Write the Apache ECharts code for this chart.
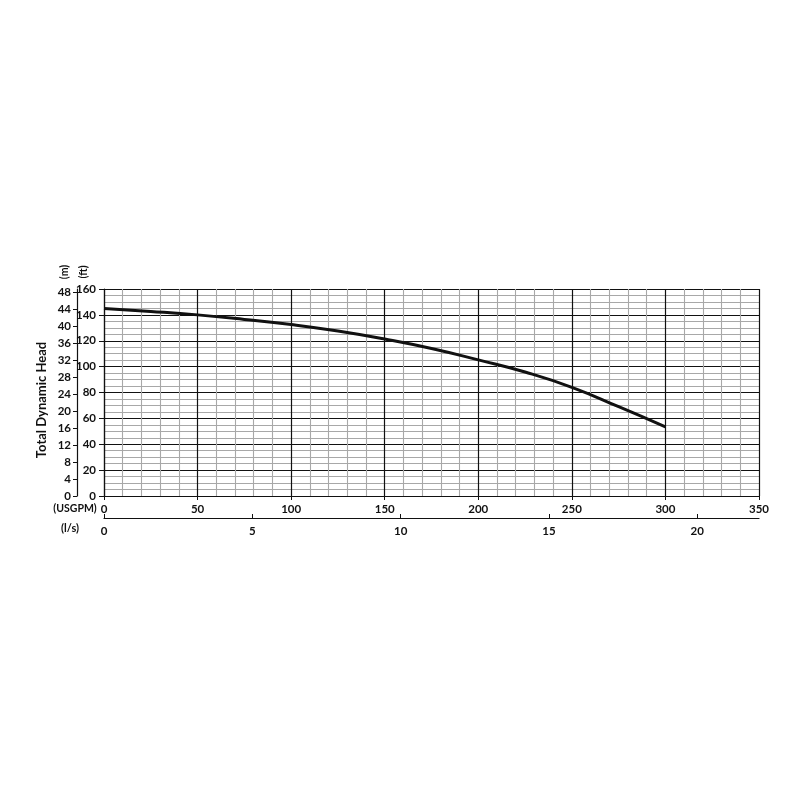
<!DOCTYPE html>
<html>
<head>
<meta charset="utf-8">
<script src="https://cdn.jsdelivr.net/npm/echarts@6/dist/echarts.min.js"></script>
<style>
  html, body { margin: 0; padding: 0; background: #fff; }
  #chart { width: 800px; height: 800px; }
</style>
</head>
<body>
<div id="chart"></div>
<script>
// flow in USGPM, head in ft
var flow_usgpm = [0, 25, 50, 75, 100, 125, 150, 175, 200, 225, 250, 275, 300];
var head_ft = [145, 142.7, 140, 136.5, 132.5, 127.5, 121.3, 114, 105.2, 95.8, 84, 69, 53.5];

var USGPM_PER_LPS = 15.8503;
var FT_PER_M = 3.28084;
var flowMax = 350;
var headMax = 160;

var font = 'Lato, "Liberation Sans", Arial, sans-serif';
var labelStyle = { color: '#111', fontSize: 11.5, fontWeight: 'bold', fontFamily: font };
var black = '#111';

var series_data = flow_usgpm.map(function (q, i) { return [q, head_ft[i]]; });

echarts.init(document.getElementById('chart')).setOption({
    animation: false,
    grid: {
        left: 104,
        right: 41,
        top: 289,
        bottom: 304
    },
    xAxis: [{
        type: 'value',
        min: 0,
        max: flowMax,
        interval: 50,
        position: 'bottom',
        axisLine: { onZero: false, lineStyle: { color: black, width: 1.2 } },
        axisTick: { show: true, length: 4, lineStyle: { color: black } },
        axisLabel: Object.assign({ margin: 7 }, labelStyle),
        splitLine: { show: true, lineStyle: { color: black, width: 1.2 } },
        minorTick: { show: false, splitNumber: 5 },
        minorSplitLine: { show: true, lineStyle: { color: '#a8a8a8', width: 1.1 } }
    }, {
        type: 'value',
        min: 0,
        max: flowMax / USGPM_PER_LPS,
        interval: 5,
        position: 'bottom',
        offset: 22,
        axisLine: { show: true, onZero: false, lineStyle: { color: black, width: 1.2 } },
        axisTick: { show: true, inside: true, length: 4, lineStyle: { color: black } },
        axisLabel: Object.assign({ margin: 7, showMaxLabel: false }, labelStyle),
        splitLine: { show: false }
    }],
    yAxis: [{
        type: 'value',
        min: 0,
        max: headMax,
        interval: 20,
        position: 'left',
        axisLine: { show: true, onZero: false, lineStyle: { color: black, width: 1.2 } },
        axisTick: { show: true, length: 5, lineStyle: { color: black } },
        axisLabel: Object.assign({ margin: 8 }, labelStyle),
        splitLine: { show: true, lineStyle: { color: black, width: 1.2 } },
        minorTick: { show: false, splitNumber: 4 },
        minorSplitLine: { show: true, lineStyle: { color: '#a8a8a8', width: 1.1 } }
    }, {
        type: 'value',
        min: 0,
        max: headMax / FT_PER_M,
        interval: 4,
        position: 'left',
        offset: 27,
        axisLine: { show: true, onZero: false, lineStyle: { color: black, width: 1.2 } },
        axisTick: { show: true, length: 4, lineStyle: { color: black } },
        axisLabel: Object.assign({ margin: 6, showMaxLabel: false }, labelStyle),
        splitLine: { show: false }
    }],
    graphic: [
        { type: 'text', x: 42, y: 400, rotation: Math.PI / 2,
          style: { text: 'Total Dynamic Head', fill: black, font: 'bold 13px ' + font, textAlign: 'center', textVerticalAlign: 'middle' } },
        { type: 'text', x: 65, y: 272, rotation: Math.PI / 2,
          style: { text: '(m)', fill: black, font: 'bold 10.5px ' + font, textAlign: 'center', textVerticalAlign: 'middle' } },
        { type: 'text', x: 84, y: 272, rotation: Math.PI / 2,
          style: { text: '(ft)', fill: black, font: 'bold 10.5px ' + font, textAlign: 'center', textVerticalAlign: 'middle' } },
        { type: 'text', x: 75, y: 509,
          style: { text: '(USGPM)', fill: black, font: 'bold 10.5px ' + font, textAlign: 'center', textVerticalAlign: 'middle' } },
        { type: 'text', x: 70, y: 528,
          style: { text: '(l/s)', fill: black, font: 'bold 11px ' + font, textAlign: 'center', textVerticalAlign: 'middle' } }
    ],
    series: [{
        type: 'line',
        xAxisIndex: 0,
        yAxisIndex: 0,
        data: series_data,
        smooth: true,
        showSymbol: false,
        lineStyle: { color: black, width: 3 }
    }]
});
</script>
</body>
</html>
